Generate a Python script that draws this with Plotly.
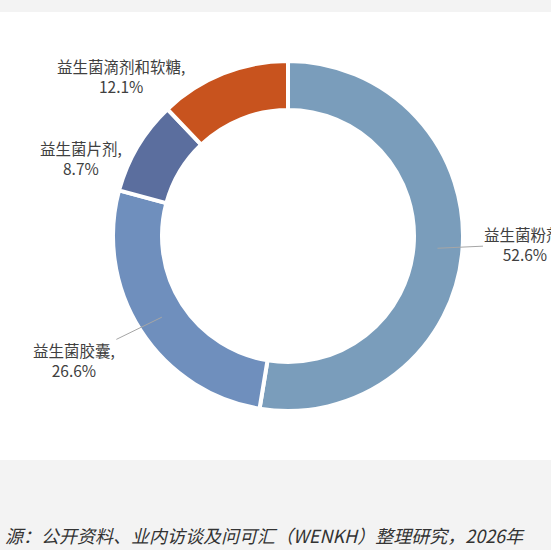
import math
import plotly.graph_objects as go

# Data
categories = ["益生菌粉剂", "益生菌胶囊", "益生菌片剂", "益生菌滴剂和软糖"]
shares = [52.6, 26.6, 8.7, 12.1]
colors = ["#7A9DBB", "#6F8FBD", "#5B6E9E", "#C8531E"]
source_text = "源：公开资料、业内访谈及问可汇（WENKH）整理研究，2026年"

W, H = 551, 550
# pie centre / radius in pixels (screen coords, y down)
cx, cy, r = 288, 236, 175

fig = go.Figure()
fig.add_trace(go.Pie(
    labels=categories, values=shares, sort=False, direction="clockwise",
    rotation=0, hole=0.72, textinfo="none", hoverinfo="label+percent",
    marker=dict(colors=colors, line=dict(color="white", width=4)),
    domain=dict(x=[(cx - r) / W, (cx + r) / W],
                y=[(H - cy - r) / H, (H - cy + r) / H]),
    showlegend=False,
))

# label offsets (px) from the slice's mid point on the ring, and leader line on/off
offsets = [(88, -4, True), (-88, 43, True), (-78, -1, False), (-111, -21, False)]

total = sum(shares)
cum = 0
for name, val, (dx, dy, line) in zip(categories, shares, offsets):
    mid = (cum + val / 2) / total * 2 * math.pi
    cum += val
    px = cx + 150 * math.sin(mid)
    py = cy - 150 * math.cos(mid)
    text = f"{name},<br>{val:.1f}%"
    common = dict(xref="paper", yref="paper", x=px / W, y=1 - py / H, text=text,
                  font=dict(family="Noto Sans CJK SC", size=15.5, color="#404040"),
                  align="center")
    if line:
        fig.add_annotation(**common, showarrow=True, arrowhead=0, arrowwidth=1,
                           arrowcolor="#A6A6A6", ax=dx, ay=dy, standoff=0)
    else:
        fig.add_annotation(**common, showarrow=False, xanchor="center",
                           yanchor="middle", xshift=dx, yshift=-dy)

fig.add_annotation(xref="paper", yref="paper", x=3 / W, y=1 - 535 / H,
                   xanchor="left", yanchor="middle", showarrow=False,
                   text=f"<i>{source_text}</i>",
                   font=dict(family="Noto Sans CJK SC", size=18, color="#333333"))

# white chart panel over the grey page background
fig.add_shape(type="rect", xref="paper", yref="paper", x0=0, x1=1,
              y0=1 - 460 / H, y1=1 - 12 / H, fillcolor="white",
              line=dict(width=0), layer="below")

fig.update_layout(width=W, height=H, margin=dict(l=0, r=0, t=0, b=0),
                  paper_bgcolor="#F3F3F3", plot_bgcolor="#F3F3F3")

fig.write_html("out.html", config={"displayModeBar": False},
               post_script="document.body.style.margin='0';"
                           "document.body.style.overflow='hidden';")
